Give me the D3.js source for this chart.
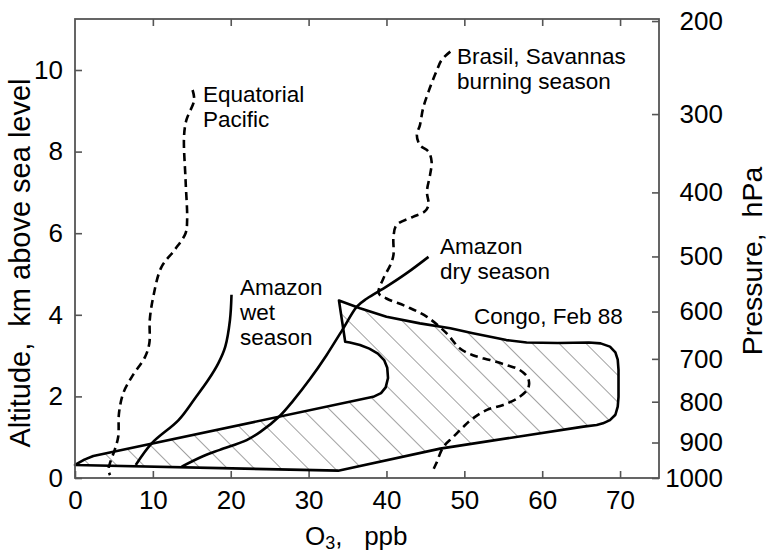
<!DOCTYPE html>
<html>
<head>
<meta charset="utf-8">
<script src="https://cdn.jsdelivr.net/npm/d3@7"></script>
<style>
  html, body { margin: 0; padding: 0; background: #fff; }
  svg { display: block; font-family: "Liberation Sans", Arial, Helvetica, sans-serif; }
</style>
</head>
<body>
<svg id="chart" width="767" height="552"></svg>
<script>
// Tick values
const xTicks = [0, 10, 20, 30, 40, 50, 60, 70];
const yTicks = [0, 2, 4, 6, 8, 10];
const pressureLabels = [200, 300, 400, 500, 600, 700, 800, 900, 1000];
const pressureAltKm = [11.2, 8.92, 7.0, 5.43, 4.08, 2.92, 1.87, 0.87, 0];

// Ozone profiles: [O3 ppb, altitude km]
const equatorialPacific = [
  [15.1, 9.51], [15.3, 9.26], [14.3, 8.77], [14.0, 8.36], [14.2, 7.30], [14.4, 6.32],
  [14.2, 6.0], [12.8, 5.59], [11.1, 5.17], [10.05, 4.44], [9.6, 3.87], [9.55, 3.31],
  [9.0, 2.97], [7.3, 2.48], [6.2, 2.08], [5.65, 1.59], [5.55, 1.01], [5.1, 0.69],
  [4.5, 0.37], [4.3, 0.2], [4.5, 0.07]
];
const amazonWet = [
  [20.1, 4.49], [19.9, 3.87], [19.3, 3.22], [18.4, 2.81], [17.1, 2.40], [15.4, 1.95],
  [13.3, 1.42], [9.85, 0.85], [7.8, 0.32]
];
const amazonDry = [
  [45.4, 5.42], [42.6, 5.02], [40.0, 4.69], [37.5, 4.40], [36.2, 4.20], [34.5, 3.68],
  [32.3, 3.01], [30.2, 2.43], [28.0, 1.89], [26.3, 1.52], [23.8, 1.13], [22.05, 0.93],
  [18.6, 0.69], [16.5, 0.54], [13.7, 0.28]
];
const brasilSavannas = [
  [48.2, 10.45], [47.1, 10.25], [46.4, 9.96], [45.4, 9.47], [44.7, 9.06], [44.3, 8.65],
  [43.9, 8.41], [44.3, 8.16], [45.4, 8.00], [45.8, 7.75], [45.6, 7.43], [45.2, 7.02],
  [45.4, 6.69], [44.9, 6.53], [43.4, 6.40], [41.3, 6.20], [40.9, 5.91], [40.9, 5.47],
  [40.5, 5.22], [39.6, 4.89], [39.0, 4.53], [40.0, 4.40], [42.6, 4.20], [45.2, 3.95],
  [47.7, 3.55], [49.4, 3.18], [51.1, 3.01], [53.3, 2.89], [55.4, 2.77], [57.1, 2.65],
  [58.2, 2.44], [58.2, 2.20], [57.1, 1.99], [55.0, 1.79], [52.9, 1.67], [51.1, 1.46],
  [49.9, 1.26], [48.6, 1.01], [47.3, 0.76], [46.4, 0.36], [45.8, 0.12]
];
// Outline of the Congo (Feb 88) envelope
const congoEnvelope = [
  [0, 0.32], [1.2, 0.45], [2.35, 0.54], [38.3, 1.99], [39.3, 2.08], [39.9, 2.22],
  [40.2, 2.45], [40.1, 2.7], [39.7, 2.89], [38.9, 3.05], [37.8, 3.17], [36.6, 3.26],
  [35.3, 3.32], [34.7, 3.34], [33.9, 4.35], [36.6, 4.16], [40.0, 3.95], [44.3, 3.79],
  [48.2, 3.67], [51.1, 3.55], [55.4, 3.38], [58.0, 3.32], [62.0, 3.31], [66.0, 3.32],
  [67.5, 3.30], [68.7, 3.22], [69.4, 3.08], [69.7, 2.9], [69.8, 2.65], [69.8, 1.99],
  [69.7, 1.75], [69.4, 1.55], [68.7, 1.42], [67.8, 1.34], [67.0, 1.30], [65.3, 1.26],
  [46.9, 0.72], [33.8, 0.18]
];

const svg = d3.select("#chart");
const plotLeft = 75, plotRight = 659, plotTop = 19, plotBottom = 478;
const x = d3.scaleLinear().domain([0, 75]).range([plotLeft, plotRight]);
const y = d3.scaleLinear().domain([0, 11.25]).range([plotBottom, plotTop]);
const axisColor = "#555";

// Diagonal hatching for the envelope
const defs = svg.append("defs");
const pat = defs.append("pattern")
  .attr("id", "hatch")
  .attr("patternUnits", "userSpaceOnUse")
  .attr("width", 19).attr("height", 19)
  .attr("patternTransform", "rotate(-45)");
pat.append("line")
  .attr("x1", 0).attr("y1", 0).attr("x2", 0).attr("y2", 19)
  .attr("stroke", "#444").attr("stroke-width", 1);

const line = d3.line().x(d => x(d[0])).y(d => y(d[1]));
const smooth = d3.line().x(d => x(d[0])).y(d => y(d[1])).curve(d3.curveCatmullRom.alpha(0.5));

// Axes
const tickFont = 26;
const gx = svg.append("g").attr("transform", `translate(0,${plotBottom})`)
  .call(d3.axisBottom(x).tickValues(xTicks).tickSize(-7).tickSizeOuter(0).tickPadding(13));
const gxTop = svg.append("g").attr("transform", `translate(0,${plotTop})`)
  .call(d3.axisTop(x).tickValues(xTicks.slice(1)).tickSize(-7).tickSizeOuter(0).tickFormat(""));
const gy = svg.append("g").attr("transform", `translate(${plotLeft},0)`)
  .call(d3.axisLeft(y).tickValues(yTicks).tickSize(-7).tickSizeOuter(0).tickPadding(12));
const gyR = svg.append("g").attr("transform", `translate(${plotRight},0)`)
  .call(d3.axisRight(y).tickValues(pressureAltKm).tickSize(-7).tickSizeOuter(0)
    .tickFormat((d, i) => pressureLabels[i]));
gyR.selectAll(".tick text").attr("x", 64).attr("text-anchor", "end");

[gx, gxTop, gy, gyR].forEach(g => {
  g.select(".domain").remove();
  g.selectAll(".tick line").attr("stroke", axisColor).attr("stroke-width", 1.6);
  g.selectAll(".tick text").attr("font-size", tickFont).attr("fill", "#000")
    .attr("font-family", "Liberation Sans, Arial, sans-serif");
});

// Envelope
svg.append("path").datum(congoEnvelope)
  .attr("d", d => line(d) + "Z")
  .attr("fill", "url(#hatch)")
  .attr("stroke", "#000").attr("stroke-width", 2.6).attr("stroke-linejoin", "round");

// Profiles
const solid = [amazonWet, amazonDry];
const dashed = [equatorialPacific, brasilSavannas];
solid.forEach(s => svg.append("path").datum(s).attr("d", smooth)
  .attr("fill", "none").attr("stroke", "#000").attr("stroke-width", 2.6));
dashed.forEach(s => svg.append("path").datum(s).attr("d", smooth)
  .attr("fill", "none").attr("stroke", "#000").attr("stroke-width", 2.6)
  .attr("stroke-dasharray", "8,5"));

// Frame
svg.append("rect").attr("x", plotLeft).attr("y", plotTop)
  .attr("width", plotRight - plotLeft).attr("height", plotBottom - plotTop)
  .attr("fill", "none").attr("stroke", axisColor).attr("stroke-width", 1.8);

// Labels
const labels = [
  { lines: ["Equatorial", "Pacific"], x: 203, y: 102 },
  { lines: ["Brasil, Savannas", "burning season"], x: 457, y: 64 },
  { lines: ["Amazon", "wet", "season"], x: 240, y: 295 },
  { lines: ["Amazon", "dry season"], x: 440, y: 254 },
  { lines: ["Congo, Feb 88"], x: 474, y: 324 }
];
labels.forEach(l => {
  const t = svg.append("text").attr("x", l.x).attr("y", l.y)
    .attr("font-size", 22.5).attr("fill", "#000");
  l.lines.forEach((s, i) => t.append("tspan").attr("x", l.x).attr("dy", i ? 25 : 0).text(s));
});

// Axis titles
svg.append("text")
  .attr("transform", "translate(30,263) rotate(-90)")
  .attr("text-anchor", "middle").attr("font-size", 29).attr("xml:space", "preserve")
  .text("Altitude,  km above sea level");
svg.append("text")
  .attr("transform", "translate(762,261) rotate(-90)")
  .attr("text-anchor", "middle").attr("font-size", 28.5).attr("xml:space", "preserve")
  .text("Pressure,  hPa");
const xt = svg.append("text").attr("x", 305).attr("y", 545).attr("font-size", 26)
  .attr("xml:space", "preserve");
xt.append("tspan").text("O");
xt.append("tspan").attr("font-size", 18).attr("dy", 4).text("3");
xt.append("tspan").attr("dy", -4).text(",   ppb");
</script>
</body>
</html>
